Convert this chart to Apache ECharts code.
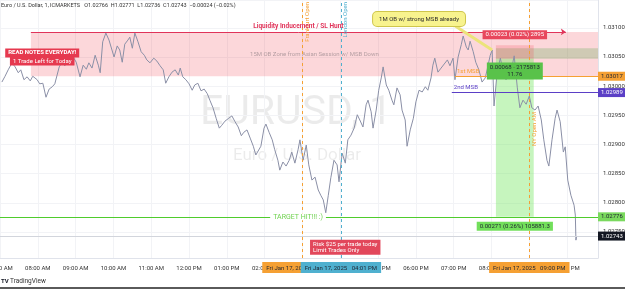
<!DOCTYPE html>
<html>
<head>
<meta charset="utf-8">
<script src="https://cdn.jsdelivr.net/npm/echarts@6/dist/echarts.min.js"></script>
<style>
  html, body { margin: 0; padding: 0; background: #fff; }
  #chart { width: 625px; height: 289px; }
</style>
</head>
<body>
<div id="chart"></div>
<script>
const day = '2025-01-17';

// 1-minute EURUSD, sampled every few minutes
const times = [
  '07:03', '07:08', '07:13', '07:19', '07:24', '07:29', '07:33', '07:38', '07:43', '07:48',
  '07:52', '07:59', '08:03', '08:08', '08:13', '08:18', '08:23', '08:27', '08:30', '08:34',
  '08:38', '08:43', '08:50', '08:56', '09:01', '09:07', '09:12', '09:17', '09:21', '09:26',
  '09:31', '09:36', '09:39', '09:43', '09:48', '09:53', '09:56', '10:01', '10:06', '10:10',
  '10:14', '10:18', '10:23', '10:26', '10:30', '10:34', '10:39', '10:44', '10:49', '10:53',
  '10:58', '11:04', '11:09', '11:14', '11:19', '11:23', '11:28', '11:33', '11:38', '11:43',
  '11:46', '11:50', '11:55', '12:00', '12:05', '12:09', '12:14', '12:19', '12:24', '12:29',
  '12:33', '12:38', '12:43', '12:48', '12:52', '12:57', '13:03', '13:08', '13:13', '13:18',
  '13:23', '13:27', '13:32', '13:37', '13:42', '13:46', '13:49', '13:54', '13:59', '14:02',
  '14:07', '14:12', '14:16', '14:21', '14:24', '14:29', '14:34', '14:39', '14:43', '14:48',
  '14:53', '14:56', '15:01', '15:06', '15:10', '15:15', '15:20', '15:25', '15:29', '15:33',
  '15:37', '15:41', '15:45', '15:50', '15:55', '15:58', '16:03', '16:08', '16:12', '16:17',
  '16:22', '16:27', '16:31', '16:36', '16:41', '16:44', '16:49', '16:52', '16:57', '17:01',
  '17:05', '17:08', '17:13', '17:17', '17:22', '17:25', '17:30', '17:35', '17:38', '17:43',
  '17:46', '17:51', '17:56', '18:00', '18:05', '18:10', '18:15', '18:19', '18:24', '18:27',
  '18:30', '18:35', '18:40', '18:45', '18:50', '18:54', '18:59', '19:02', '19:07', '19:12',
  '19:15', '19:20', '19:23', '19:26', '19:31', '19:35', '19:40', '19:45', '19:50', '19:53',
  '19:58', '20:01', '20:04', '20:09', '20:14', '20:18', '20:23', '20:28', '20:33', '20:36',
  '20:41', '20:45', '20:50', '20:55', '21:00', '21:04', '21:09', '21:14', '21:19', '21:23',
  '21:28', '21:31', '21:36', '21:41', '21:44', '21:49', '21:54', '21:57', '22:01', '22:06',
  '22:11', '22:13', '22:14', '22:15'
];
const prices = [
  1.03007, 1.03017, 1.03028, 1.03040, 1.03033, 1.03023, 1.03028, 1.03011, 1.03016, 1.03009,
  1.03017, 1.03011, 1.03004, 1.03005, 1.02981, 1.02995, 1.02999, 1.03004, 1.03007, 1.03033,
  1.03040, 1.03035, 1.03045, 1.03050, 1.03041, 1.03016, 1.03036, 1.03029, 1.03040, 1.03031,
  1.03053, 1.03036, 1.03023, 1.03076, 1.03091, 1.03079, 1.03076, 1.03050, 1.03069, 1.03062,
  1.03041, 1.03072, 1.03079, 1.03084, 1.03065, 1.03091, 1.03076, 1.03059, 1.03053, 1.03045,
  1.03040, 1.03048, 1.03043, 1.03035, 1.03028, 1.03005, 1.03016, 1.03024, 1.03028, 1.03019,
  1.03031, 1.03016, 1.03011, 1.03004, 1.02993, 1.03002, 1.03005, 1.02992, 1.02995, 1.02987,
  1.02976, 1.02963, 1.02945, 1.02928, 1.02933, 1.02940, 1.02945, 1.02949, 1.02939, 1.02930,
  1.02915, 1.02921, 1.02925, 1.02911, 1.02897, 1.02882, 1.02879, 1.02897, 1.02928, 1.02935,
  1.02921, 1.02908, 1.02891, 1.02873, 1.02856, 1.02870, 1.02863, 1.02873, 1.02887, 1.02868,
  1.02891, 1.02908, 1.02873, 1.02899, 1.02865, 1.02839, 1.02844, 1.02822, 1.02813, 1.02805,
  1.02783, 1.02813, 1.02843, 1.02873, 1.02865, 1.02836, 1.02885, 1.02868, 1.02908, 1.02916,
  1.02928, 1.02951, 1.02942, 1.02930, 1.02968, 1.02976, 1.02956, 1.02928, 1.02959, 1.02993,
  1.03014, 1.03033, 1.03002, 1.02993, 1.02976, 1.02968, 1.02997, 1.02985, 1.02959, 1.02942,
  1.02897, 1.02925, 1.02945, 1.02973, 1.02993, 1.02990, 1.02999, 1.02993, 1.03014, 1.03036,
  1.03048, 1.03024, 1.03031, 1.03038, 1.03045, 1.03035, 1.03048, 1.03011, 1.03050, 1.03071,
  1.03086, 1.03067, 1.03062, 1.03077, 1.03059, 1.03041, 1.03028, 1.03007, 1.03014, 1.03028,
  1.03053, 1.03062, 1.02966, 1.03024, 1.03048, 1.03028, 1.03011, 1.03024, 1.03036, 1.03052,
  1.02997, 1.02963, 1.02976, 1.02969, 1.02983, 1.02963, 1.02959, 1.02966, 1.02942, 1.02908,
  1.02873, 1.02863, 1.02908, 1.02945, 1.02959, 1.02939, 1.02887, 1.02896, 1.02839, 1.02813,
  1.02796, 1.02779, 1.02736, 1.02743
];

const hourLabels = [
  '07:00 AM', '08:00 AM', '09:00 AM', '10:00 AM', '11:00 AM', '12:00 PM', '01:00 PM', '02:00 PM',
  '03:00 PM', '04:00 PM', '05:00 PM', '06:00 PM', '07:00 PM', '08:00 PM', '09:00 PM', '10:00 PM', '11:00 PM'
];
const viewTimes = ['07:00', '22:49'];
const viewPrices = [1.027054, 1.031477];

// drawings
const zoneTimes = ['07:49', '22:49'];
const zonePrices = [1.03017, 1.03093];
const obBoxTimes = ['20:07', '22:49'];
const obBoxPrices = [1.03047, 1.03065];
const positionTimes = ['20:07', '21:07'];
const entryPrice = 1.03047;
const stopPrice = 1.03070;
const targetPrice = 1.02776;
const liquidityTimes = ['07:49', '21:58'];
const liquidityPrice = 1.03093;
const firstMsbTimes = ['19:02', '22:49'];
const firstMsbPrice = 1.03017;
const secondMsbTimes = ['18:57', '22:49'];
const secondMsbPrice = 1.02989;
const lastPrice = 1.02743;
const sessionTimes = ['15:00', '16:01', '21:00'];
const sessionNames = ['Frankfurt Open', 'London Open', 'NY Open AM'];
const sessionDates = ['Fri Jan 17, 2025   03:00 PM', 'Fri Jan 17, 2025   04:01 PM', 'Fri Jan 17, 2025   09:00 PM'];
const calloutTimes = ['18:05', '18:57', '20:01'];
const calloutPrices = [1.03115, 1.03107, 1.03062];
const noteTimes = ['08:07', '15:12', '14:53', '20:37'];
const notePrices = [1.03057, 1.03043, 1.02724, 1.02776, 1.03088, 1.03026, 1.02760];

const T = (hm) => new Date(day + 'T' + hm + ':00').getTime();
const orange = '#f5a033';
const blue = '#4fb0cf';
const purple = '#5b3fc6';
const green = '#4fcc2c';
const red = '#e0345a';
const hidden = 'rgba(0,0,0,0)';

// full-width horizontal segment (the time axis cannot take an open end)
const hLine = (v, extra) => [
  Object.assign({ coord: [T(viewTimes[0]), v] }, extra),
  { coord: [T(viewTimes[1]), v] }
];
// price-scale tag at the right end of a level
const tag = (v, bg, fg) => ({ show: true, position: 'end', distance: 0, formatter: v.toFixed(5),
  backgroundColor: bg, color: fg, padding: [2, 3, 1, 3], fontSize: 6 });

const chart = echarts.init(document.getElementById('chart'));

chart.setOption({
  animation: false,
  textStyle: { fontFamily: 'Roboto' },
  grid: { left: 0, right: 27, top: 0, bottom: 31, containLabel: false, outerBoundsMode: 'none' },
  xAxis: {
    type: 'time',
    min: T(viewTimes[0]),
    max: T(viewTimes[1]),
    minInterval: 3600 * 1000,
    maxInterval: 3600 * 1000,
    axisLine: { lineStyle: { color: '#e0e3eb' } },
    axisTick: { show: false },
    splitLine: { show: true, lineStyle: { color: '#f2f3f6' } },
    axisLabel: {
      fontSize: 6, color: '#333', margin: 7, hideOverlap: false,
      formatter: (v) => hourLabels[new Date(v).getHours() - 7] || ''
    }
  },
  yAxis: {
    type: 'value',
    position: 'right',
    min: viewPrices[0],
    max: viewPrices[1],
    minInterval: 0.0005,
    maxInterval: 0.0005,
    axisLine: { show: true, lineStyle: { color: '#e0e3eb' } },
    axisTick: { show: false },
    splitLine: { lineStyle: { color: '#f2f3f6' } },
    axisLabel: {
      fontSize: 6, color: '#333', margin: 5,
      showMinLabel: false, showMaxLabel: false,
      formatter: (v) => v.toFixed(5)
    }
  },
  graphic: [
    { type: 'text', left: 1, top: 3, z: 10,
      style: { text: 'Euro / U.S. Dollar, 1, ICMARKETS   O1.02766  H1.02771  L1.02736  C1.02743  \u22120.00024 (\u22120.02%)',
        fill: '#333', font: '5.5px Roboto' } },
    { type: 'text', x: 296, y: 114, z: -1,
      style: { text: 'EURUSD, 1', fill: 'rgba(0,0,0,0.08)', font: '41px Roboto', align: 'center', verticalAlign: 'middle' } },
    { type: 'text', x: 297, y: 156, z: -1,
      style: { text: 'Euro / U.S. Dollar', fill: 'rgba(0,0,0,0.08)', font: '17px Roboto', align: 'center', verticalAlign: 'middle' } },
    { type: 'text', left: 1, top: 278,
      style: { text: 'TV', fill: '#131722', font: 'bold 6px Roboto' } },
    { type: 'text', left: 10, top: 278,
      style: { text: 'TradingView', fill: '#333', font: '6.5px Roboto' } },
    { type: 'rect', left: 0, top: 287, shape: { width: 625, height: 2 }, style: { fill: '#5a5a5a' } }
  ],
  series: [
    {
      name: 'zones', type: 'line', data: [], z: 1, silent: true,
      markArea: {
        silent: true,
        data: [
          [{ coord: [T(zoneTimes[0]), zonePrices[0]], itemStyle: { color: 'rgba(242,54,69,0.2)' },
             label: { show: true, position: 'inside', formatter: '15M OB Zone from Asian Session w/ MSB Down',
               color: 'rgba(120,110,115,0.55)', fontSize: 6 } },
           { coord: [T(zoneTimes[1]), zonePrices[1]] }],
          [{ coord: [T(obBoxTimes[0]), obBoxPrices[0]], itemStyle: { color: 'rgba(90,170,80,0.28)' } },
           { coord: [T(obBoxTimes[1]), obBoxPrices[1]] }],
          [{ coord: [T(positionTimes[0]), entryPrice], itemStyle: { color: 'rgba(242,54,69,0.2)' } },
           { coord: [T(positionTimes[1]), stopPrice] }],
          [{ coord: [T(positionTimes[0]), targetPrice], itemStyle: { color: 'rgba(120,230,100,0.42)' } },
           { coord: [T(positionTimes[1]), entryPrice] }]
        ]
      }
    },
    {
      name: 'EURUSD', type: 'line', z: 2,
      data: times.map((t, i) => [T(t), prices[i]]),
      showSymbol: false,
      lineStyle: { color: '#8a8fa6', width: 1 }
    },
    {
      name: 'levels', type: 'line', data: [], z: 3, clip: false, silent: true,
      markLine: {
        silent: true,
        symbol: ['none', 'none'],
        data: [
          // session lines
          ...sessionTimes.map((t, i) => ({
            xAxis: T(t),
            lineStyle: { color: i === 1 ? blue : orange, type: [3, 3], width: 1 },
            label: { show: true, position: i === 2 ? 'insideMiddleBottom' : 'insideEndBottom',
              formatter: sessionNames[i], color: i === 1 ? blue : orange, fontSize: 6, distance: 2 }
          })),
          // liquidity ray
          [{ coord: [T(liquidityTimes[0]), liquidityPrice], symbol: 'none',
             lineStyle: { color: red, width: 1, type: 'solid' },
             label: { show: true, position: 'insideMiddleTop', formatter: 'Liquidity Inducement / SL Hunt',
               color: red, fontWeight: 'bold', fontSize: 6.5, distance: 2 } },
           { coord: [T(liquidityTimes[1]), liquidityPrice], symbol: 'arrow', symbolSize: 5 }],
          // MSB levels
          [{ coord: [T(firstMsbTimes[0]), firstMsbPrice],
             lineStyle: { color: orange, width: 1, type: 'solid' },
             label: { show: true, position: 'insideStartTop', formatter: '1st MSB', color: orange, fontSize: 6, distance: 2 } },
           { coord: [T(firstMsbTimes[1]), firstMsbPrice] }],
          [{ coord: [T(secondMsbTimes[0]), secondMsbPrice],
             lineStyle: { color: purple, width: 1, type: 'solid' },
             label: { show: true, position: 'insideStartTop', formatter: '2nd MSB', color: purple, fontSize: 6, distance: 2 } },
           { coord: [T(secondMsbTimes[1]), secondMsbPrice] }],
          // target + last price, with their price-scale tags
          hLine(targetPrice, { lineStyle: { color: green, width: 1, type: 'solid' }, label: tag(targetPrice, '#7ad95e', '#1f2430') }),
          hLine(lastPrice, { lineStyle: { color: '#d2d5dc', width: 1, type: 'solid' }, label: tag(lastPrice, '#131722', '#fff') }),
          // callout pointer
          [{ coord: [T(calloutTimes[1]), calloutPrices[1]],
             lineStyle: { color: '#ece47a', width: 3, type: 'solid' }, label: { show: false } },
           { coord: [T(calloutTimes[2]), calloutPrices[2]] }]
        ]
      }
    },
    {
      name: 'notes', type: 'line', data: [], z: 4, clip: false, silent: true,
      markLine: {
        silent: true,
        symbol: ['none', 'none'],
        lineStyle: { color: hidden, width: 0 },
        label: { fontSize: 6, padding: [3, 4, 2, 4] },
        data: [
          ...sessionTimes.map((t, i) => ({
            xAxis: T(t),
            lineStyle: { color: hidden, width: 0 },
            label: { show: true, position: 'start', distance: 4, formatter: sessionDates[i],
              backgroundColor: i === 1 ? blue : orange, color: '#1f2430' }
          })),
          hLine(firstMsbPrice, { lineStyle: { color: hidden, width: 0 }, label: tag(firstMsbPrice, orange, '#1f2430') }),
          hLine(secondMsbPrice, { lineStyle: { color: hidden, width: 0 }, label: tag(secondMsbPrice, purple, '#fff') })
        ]
      },
      markPoint: {
        silent: true,
        symbolSize: 0,
        label: { fontSize: 6 },
        data: [
          { coord: [T(noteTimes[0]), notePrices[0]],
            label: { formatter: 'READ NOTES EVERYDAY!', backgroundColor: '#e6394f', color: '#fff',
              fontWeight: 'bold', padding: [2, 3, 1, 3] } },
          { coord: [T(noteTimes[0]), notePrices[1]],
            label: { formatter: '1 Trade Left for Today', backgroundColor: '#e6394f', color: '#fff',
              padding: [2, 3, 1, 3] } },
          { coord: [T(noteTimes[1]), notePrices[2]],
            label: { formatter: 'Risk $25 per trade today\nLimit Trades Only', backgroundColor: '#e2475b',
              color: '#fff', align: 'left', lineHeight: 6, padding: [2, 3, 1, 3] } },
          { coord: [T(noteTimes[2]), notePrices[3]],
            label: { formatter: 'TARGET HIT!!! :)', color: '#6fd24f', fontSize: 7,
              backgroundColor: '#fff', padding: [0, 3] } },
          { coord: [T(noteTimes[3]), notePrices[4]],
            label: { formatter: '0.00023 (0.02%) 2895', backgroundColor: '#e8475c', color: '#fff',
              padding: [2, 3, 1, 3] } },
          { coord: [T(noteTimes[3]), notePrices[5]],
            label: { formatter: '0.00068 \u00b7 2175813\n11.76', backgroundColor: '#59c24a', color: '#1f2430',
              align: 'center', lineHeight: 7, padding: [2, 3, 1, 3] } },
          { coord: [T(noteTimes[3]), notePrices[6]],
            label: { formatter: '0.00271 (0.26%) 105881.3', backgroundColor: '#72df5b', color: '#1f2430',
              padding: [2, 3, 1, 3] } },
          { coord: [T(calloutTimes[0]), calloutPrices[0]],
            label: { formatter: '1M OB w/ strong MSB already', backgroundColor: '#f8f38e', color: '#2a2a2a',
              borderColor: '#cfc64c', borderWidth: 1, borderRadius: 4, padding: [4, 6] } }
        ]
      }
    }
  ]
});
</script>
</body>
</html>
